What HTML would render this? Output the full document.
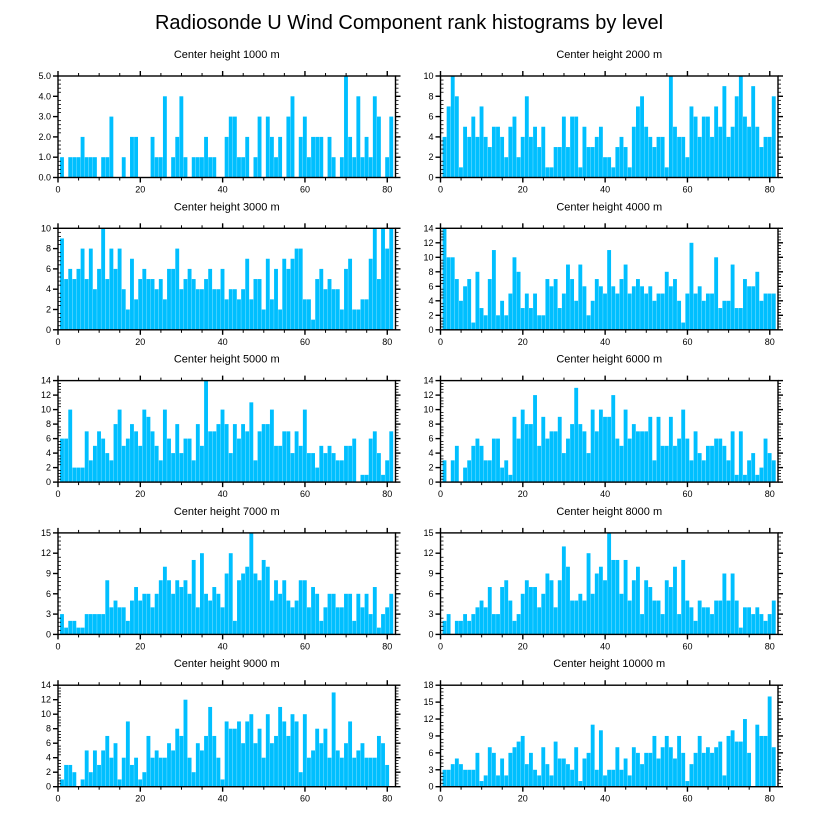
<!DOCTYPE html>
<html><head><meta charset="utf-8"><style>
html,body{margin:0;padding:0;background:#fff;}
svg{display:block;font-family:"Liberation Sans",Arial,sans-serif;}
</style></head><body>
<svg id="chart" width="818" height="824" viewBox="0 0 818 824">
<text x="409" y="29" text-anchor="middle" font-size="20" fill="#000">Radiosonde U Wind Component rank histograms by level</text>
</svg>
<script>
const levels = ["1000","2000","3000","4000","5000","6000","7000","8000","9000","10000"];
const yMaxes = [5,10,10,14,14,14,15,15,14,18];
const yStepsArr = [1,2,2,2,2,2,3,3,2,3];
const xTicks = [0,20,40,60,80];
const h1000 = [1,0,1,1,1,2,1,1,1,0,1,1,3,0,0,1,0,2,2,0,0,0,2,1,1,4,0,1,2,4,1,0,1,1,1,2,1,1,0,0,2,3,3,1,1,2,0,1,3,0,3,2,1,2,0,3,4,0,2,3,1,2,2,2,0,2,1,0,1,5,2,1,4,1,2,1,4,3,0,1,3];
const h2000 = [4,7,10,8,1,5,4,6,4,7,4,3,5,5,4,2,5,6,2,4,8,4,5,3,5,1,1,3,3,6,3,6,6,1,5,3,3,4,5,2,2,1,3,4,3,1,5,7,8,5,4,3,4,4,1,10,5,4,4,2,7,6,4,6,6,4,7,5,9,4,5,8,10,6,5,9,5,3,4,4,8];
const h3000 = [9,5,6,5,6,8,5,8,4,6,10,5,8,6,8,4,2,7,3,5,6,5,5,4,5,3,6,6,8,4,5,6,5,4,4,5,6,4,4,6,3,4,4,3,4,7,3,5,5,2,7,3,6,2,7,6,7,8,8,3,3,1,5,6,4,5,4,4,2,6,7,2,2,3,3,7,10,5,10,8,10];
const h4000 = [14,10,10,7,4,6,7,1,8,3,2,7,11,2,4,2,5,10,8,3,5,3,5,2,2,7,6,7,3,5,9,7,4,9,6,2,4,7,6,5,11,6,5,7,9,5,6,7,6,5,6,4,5,5,8,6,7,4,1,5,12,5,6,4,5,5,10,3,4,4,9,3,3,7,6,6,8,4,5,5,5];
const h5000 = [6,6,10,2,2,2,7,3,5,7,6,4,3,8,10,5,6,8,7,5,10,9,7,5,3,10,6,4,8,4,6,6,3,8,5,14,7,7,8,10,8,4,8,6,8,7,11,3,7,8,8,10,5,5,7,7,4,7,5,10,4,4,2,5,4,5,4,3,3,5,5,6,0,1,1,6,7,4,1,3,7];
const h6000 = [3,0,3,5,0,2,3,5,6,5,3,3,6,6,2,3,1,9,6,10,8,8,12,5,9,6,7,7,9,4,6,8,13,8,7,4,10,7,10,9,9,12,6,5,10,6,8,7,7,7,9,3,9,5,5,9,5,6,10,6,3,7,4,3,5,5,6,6,5,3,7,1,7,1,3,4,1,2,6,4,3];
const h7000 = [3,1,2,2,1,1,3,3,3,3,3,8,4,5,4,4,2,5,7,5,6,6,4,6,8,10,8,6,8,7,8,6,11,4,12,6,5,7,6,4,9,12,2,8,9,10,15,9,8,11,10,5,8,6,8,5,4,5,8,8,4,7,6,2,4,6,6,4,4,6,6,2,6,4,6,3,7,1,3,4,6];
const h8000 = [2,3,0,2,2,3,2,3,4,5,4,7,3,3,7,8,5,2,3,6,8,7,7,4,6,9,8,4,8,13,10,5,5,6,5,12,6,9,10,8,15,11,11,6,11,5,8,10,3,8,7,5,5,3,8,7,10,3,11,5,4,2,5,4,4,3,5,5,9,5,9,5,1,4,4,3,4,3,2,3,5];
const h9000 = [1,3,3,2,0,1,5,2,5,3,5,7,4,6,1,4,9,3,4,1,2,7,4,5,4,4,6,5,8,7,12,4,2,6,5,7,11,7,4,1,9,8,8,9,6,9,10,6,8,4,10,6,7,11,9,7,10,9,2,10,4,5,8,6,8,4,13,5,4,6,9,4,5,6,4,4,4,7,6,3];
const h10000 = [3,3,4,5,4,3,3,3,6,1,2,7,6,2,5,2,6,7,8,9,4,6,3,2,7,4,2,8,5,5,4,3,7,1,5,6,11,3,10,2,3,3,7,3,5,2,7,6,4,6,6,9,5,7,9,7,5,9,6,1,4,6,9,6,7,6,7,8,2,9,10,8,8,12,6,0,11,9,9,16,7];
const seriesList = [h1000,h2000,h3000,h4000,h5000,h6000,h7000,h8000,h9000,h10000];

const NS = "http://www.w3.org/2000/svg";
const svg = document.getElementById("chart");
function mk(tag, attrs, parent) {
  const e = document.createElementNS(NS, tag);
  for (const k in attrs) e.setAttribute(k, attrs[k]);
  parent.appendChild(e);
  return e;
}
const colX = [58, 440.5];
const rowY = [76, 228.3, 380.6, 532.9, 685.2];
const PW = 337.5, PH = 101.5, XMAX = 82;

seriesList.forEach((vals, p) => {
  const left = colX[p % 2], top = rowY[Math.floor(p / 2)];
  const ymax = yMaxes[p], step = yStepsArr[p];
  const xs = v => left + v / XMAX * PW;
  const ys = v => top + PH - v / ymax * PH;
  const g = mk("g", {}, svg);
  
  
  const t = mk("text", {x: left + PW / 2, y: top - 18, "text-anchor": "middle", "font-size": "11", fill: "#000"}, g);
  t.textContent = "Center height " + levels[p] + " m";
  
  
  vals.forEach((v, i) => {
    if (v <= 0) return;
    const r = i + 1;
    const b = mk("rect", {x: xs(r - 0.5), y: ys(v), width: Math.max(0, xs(r + 0.44) - xs(r - 0.5)), height: ys(0) - ys(v), fill: "#00BFFF"}, g);
    
    
  });
  const frame = mk("rect", {x: left, y: top, width: PW, height: PH, fill: "none", stroke: "#000", "stroke-width": "1.4"}, g);
  
  
  // x ticks
  for (let v = 0; v <= 80; v += 5) {
    const major = v % 20 === 0;
    const L = major ? 5 : 3;
    const x = xs(v);
    mk("line", {x1: x, x2: x, y1: top + PH, y2: top + PH + L, stroke: "#000", "stroke-width": major ? 1.4 : 1}, g);
    mk("line", {x1: x, x2: x, y1: top, y2: top - L, stroke: "#000", "stroke-width": major ? 1.4 : 1}, g);
  }
  xTicks.forEach(v => {
    const lab = mk("text", {x: xs(v), y: top + PH + 15, "text-anchor": "middle", "font-size": "9", fill: "#000"}, g);
    lab.textContent = v;
    
    
  });
  // y ticks
  const minor = step / 5;
  for (let k = 0; k <= Math.round(ymax / minor); k++) {
    const v = k * minor;
    const major = k % 5 === 0;
    const y = ys(v);
    if (major) {
      mk("line", {x1: left - 5, x2: left, y1: y, y2: y, stroke: "#000", "stroke-width": 1.4}, g);
      mk("line", {x1: left + PW, x2: left + PW + 5, y1: y, y2: y, stroke: "#000", "stroke-width": 1.4}, g);
      const lab = mk("text", {x: left - 7, y: y + 3, "text-anchor": "end", "font-size": "9", fill: "#000"}, g);
      lab.textContent = p === 0 ? v.toFixed(1) : Math.round(v);
      
      
    } else {
      mk("line", {x1: left, x2: left + 3, y1: y, y2: y, stroke: "#000", "stroke-width": 0.8}, g);
      mk("line", {x1: left + PW, x2: left + PW + 3, y1: y, y2: y, stroke: "#000", "stroke-width": 0.8}, g);
    }
  }
});
</script>
</body></html>
